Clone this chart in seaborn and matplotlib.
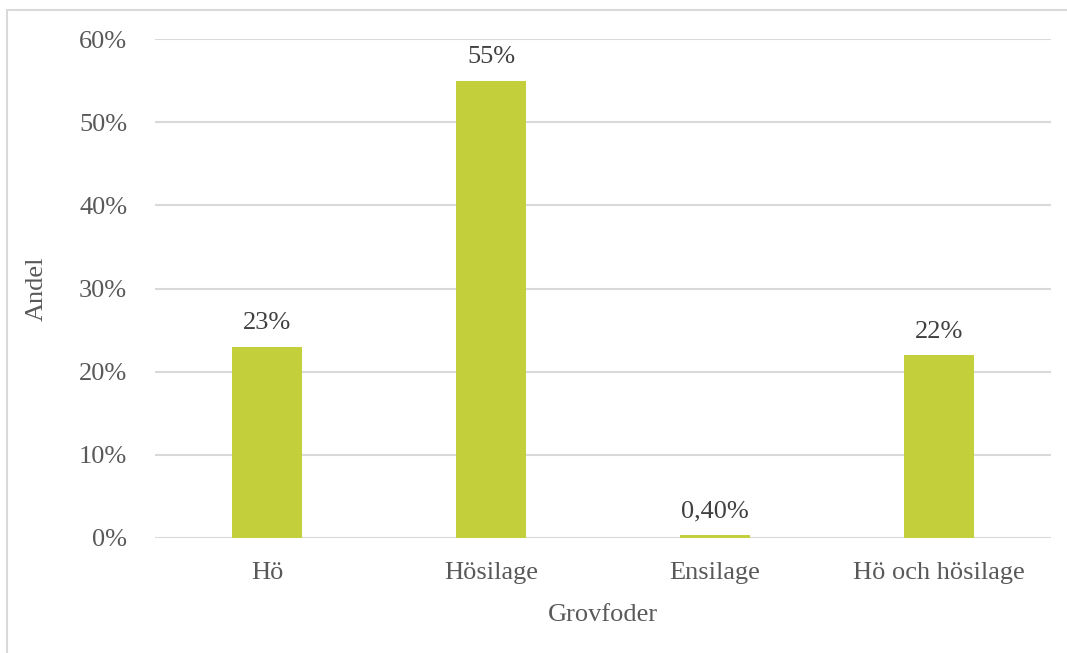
import matplotlib
matplotlib.use("Agg")
import matplotlib.pyplot as plt
import seaborn as sns
import pandas as pd
from matplotlib.patches import Rectangle
from matplotlib.ticker import FuncFormatter

categories = ["Hö", "Hösilage", "Ensilage", "Hö och hösilage"]
values = [0.23, 0.55, 0.004, 0.22]
value_labels = ["23%", "55%", "0,40%", "22%"]
yticks = [0.0, 0.1, 0.2, 0.3, 0.4, 0.5, 0.6]

sns.set_theme(style="white")
plt.rcParams['font.family'] = ['Liberation Serif', 'DejaVu Serif']

df = pd.DataFrame({"Grovfoder": categories, "Andel": values})

fig = plt.figure(figsize=(10.67, 6.53), dpi=100)
ax = fig.add_axes([155/1067, 1-538/653, (1051-155)/1067, (538-39)/653])

sns.barplot(data=df, x="Grovfoder", y="Andel", color="#C3D03B", width=0.3125,
            saturation=1, linewidth=0, ax=ax, zorder=3)

ax.set_ylim(0, 0.6)
ax.set_xlim(-0.5, len(categories) - 0.5)
ax.set_yticks(yticks)
ax.yaxis.set_major_formatter(FuncFormatter(lambda v, p: f"{v*100:.0f}%"))
ax.grid(axis="y", color="#D9D9D9", linewidth=1.5, zorder=0)
ax.grid(axis="x", visible=False)
for s in ax.spines.values():
    s.set_visible(False)
ax.tick_params(axis="both", length=0, labelsize=19, colors="#595959")
ax.tick_params(axis="y", pad=20)
ax.tick_params(axis="x", pad=17)

for i, (v, lab) in enumerate(zip(values, value_labels)):
    ax.annotate(lab, (i, v), xytext=(0, 9), textcoords="offset points",
                ha="center", va="bottom", fontsize=19, color="#404040")

ax.set_xlabel("Grovfoder", fontsize=19, color="#595959", labelpad=15)
ax.set_ylabel("Andel", fontsize=19, color="#595959", labelpad=10)
ax.yaxis.set_label_coords(-107/896, 0.5)

fig.patches.append(Rectangle((7/1067, -0.1), 1.2, 1 - 10/653 + 0.1, transform=fig.transFigure,
                             fill=False, edgecolor="#D9D9D9", linewidth=1.5))

fig.savefig("out.png", dpi=100)
